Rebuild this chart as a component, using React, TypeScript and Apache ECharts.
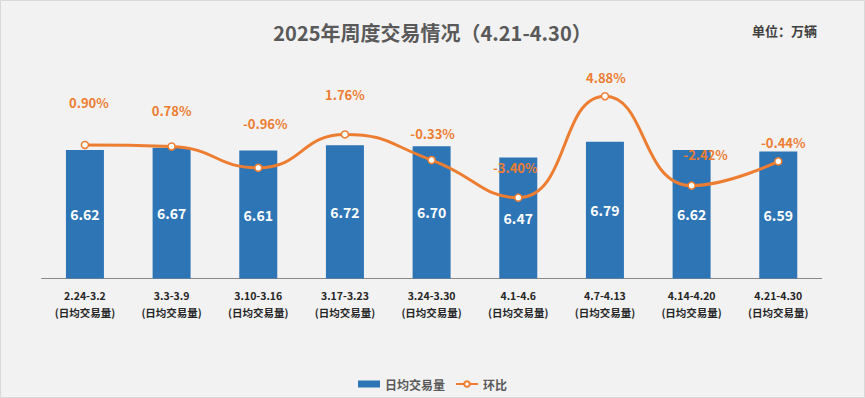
import React, { useEffect, useRef } from "react";
import * as echarts from "echarts";

const weeks = ["2.24-3.2", "3.3-3.9", "3.10-3.16", "3.17-3.23", "3.24-3.30", "4.1-4.6", "4.7-4.13", "4.14-4.20", "4.21-4.30"];
const dailyVolume = [6.62, 6.67, 6.61, 6.72, 6.7, 6.47, 6.79, 6.62, 6.59];
const changePct = [0.9, 0.78, -0.96, 1.76, -0.33, -3.4, 4.88, -2.42, -0.44];
const labelSuffix = "(日均交易量)";
const barName = "日均交易量";
const lineName = "环比";
const titleText = "2025年周度交易情况（4.21-4.30）";
const unitText = "单位：万辆";

// label nudges (style only) for the ratio labels, [dx, dy] from each point
const labelNudge: [number, number][] = [
  [4, -42], [0, -36], [7, -44], [0, -40], [1, -27], [-3, -30], [1, -19], [14, -31], [5, -19],
];

const FONT = "'Noto Sans CJK SC', 'Noto Sans', sans-serif";
const BLUE = "#2E75B6";
const ORANGE = "#ED7D31";

export default function App() {
  const ref = useRef<HTMLDivElement>(null);
  useEffect(() => {
    document.body.style.margin = "0";
    const chart = echarts.init(ref.current!, null, { renderer: "svg" });
    chart.setOption({
      animation: false,
      backgroundColor: "#F2F2F2",
      textStyle: { fontFamily: FONT },
      title: [
        {
          text: titleText,
          left: "center",
          top: 17,
          textStyle: { fontSize: 20, fontWeight: "bold", color: "#595959", fontFamily: FONT },
        },
        {
          text: unitText,
          right: 43,
          top: 19,
          textStyle: { fontSize: 13, fontWeight: "bold", color: "#404040", fontFamily: FONT },
        },
      ],
      graphic: [
        {
          type: "rect",
          shape: { x: 0.5, y: 0.5, width: 864, height: 397 },
          style: { fill: "none", stroke: "#D9D9D9", lineWidth: 1 },
          silent: true,
        },
      ],
      legend: {
        top: 373,
        left: "center",
        itemWidth: 22,
        itemHeight: 7,
        itemGap: 10,
        textStyle: { fontSize: 12, fontWeight: "bold", color: "#595959", fontFamily: FONT },
        data: [
          { name: barName, icon: "rect" },
          { name: lineName },
        ],
      },
      grid: { left: 41.6, right: 43.4, top: 82.5, bottom: 119.5, containLabel: false },
      xAxis: {
        type: "category",
        data: weeks,
        axisLine: { onZero: false, lineStyle: { color: "#898989", width: 1 } },
        axisTick: { show: false },
        axisLabel: {
          interval: 0,
          margin: 8,
          lineHeight: 17,
          fontSize: 10.5,
          fontWeight: "bold",
          color: "#262626",
          fontFamily: FONT,
          formatter: (v: string) => `${v}\n${labelSuffix}`,
        },
      },
      yAxis: [
        { type: "value", min: 4, max: 8, show: false, splitLine: { show: false } },
        { type: "value", min: -10, max: 6, show: false, splitLine: { show: false } },
      ],
      series: [
        {
          name: barName,
          type: "bar",
          data: dailyVolume,
          barWidth: 38,
          itemStyle: { color: BLUE },
          label: {
            show: true,
            position: "inside",
            color: "#FFFFFF",
            fontSize: 14,
            fontWeight: "bold",
            fontFamily: FONT,
            formatter: (p: any) => p.value.toFixed(2),
          },
        },
        {
          name: lineName,
          type: "line",
          yAxisIndex: 1,
          data: changePct.map((v, i) => ({
            value: v,
            label: { offset: labelNudge[i] },
          })),
          smooth: 0.5,
          symbol: "circle",
          symbolSize: 7,
          lineStyle: { color: ORANGE, width: 3 },
          itemStyle: { color: "#FFFFFF", borderColor: ORANGE, borderWidth: 1.5 },
          label: {
            show: true,
            position: "inside",
            color: ORANGE,
            fontSize: 13,
            fontWeight: "bold",
            fontFamily: FONT,
            formatter: (p: any) => `${p.value.toFixed(2)}%`,
          },
          z: 3,
        },
      ],
    });
    return () => chart.dispose();
  }, []);
  return <div ref={ref} style={{ width: 865, height: 398 }} />;
}
